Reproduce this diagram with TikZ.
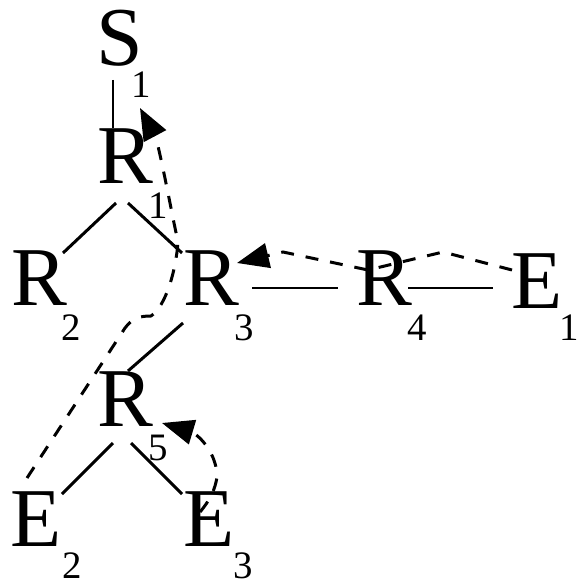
\documentclass[tikz,border=0pt]{standalone}
\usepackage{fontspec}
\setmainfont{Liberation Serif}
\usetikzlibrary{arrows.meta}
\newcommand{\px}{0.0352778cm}
\tikzset{x=\px,y=-\px,
 big/.style={inner sep=0pt,font=\fontsize{84}{84}\selectfont,anchor=center},
 sub/.style={inner sep=0pt,font=\fontsize{39}{39}\selectfont,anchor=center},
 bond/.style={line width=3pt,black},
 trace/.style={line width=3pt,black,dash pattern=on 13pt off 12pt},
 head/.style={-{Triangle[length=32pt,width=25pt]}}}
\begin{document}
\begin{tikzpicture}
\useasboundingbox (0,0) rectangle (577,587);
\node[big] (S) at (120,38) {S};
\node[sub] (s1) at (141,85) {1};
\node[big] (R1) at (125,156) {R};
\node[sub] (r1) at (158,206) {1};
\node[big] (R2) at (39,278) {R};
\node[sub] (r2) at (71,328) {2};
\node[big] (R3) at (211,278) {R};
\node[sub] (r3) at (244,328) {3};
\node[big] (R4) at (384,278) {R};
\node[sub] (r4) at (417,328) {4};
\node[big] (E1) at (537,281) {E};
\node[sub] (e1) at (569,328) {1};
\node[big] (R5) at (125,399) {R};
\node[sub] (r5) at (158,448) {5};
\node[big] (E2) at (36,519) {E};
\node[sub] (e2) at (72,566) {2};
\node[big] (E3) at (209,519) {E};
\node[sub] (e3) at (243,566) {3};
\coordinate (a1) at (113,80); \coordinate (a2) at (113,128);
\coordinate (b1) at (116,203); \coordinate (b2) at (63,253);
\coordinate (c1) at (128,203); \coordinate (c2) at (182,253);
\coordinate (d1) at (252,288); \coordinate (d2) at (338,288);
\coordinate (f1) at (408,288); \coordinate (f2) at (493,288);
\coordinate (g1) at (183,323); \coordinate (g2) at (128,371);
\coordinate (h1) at (113,443); \coordinate (h2) at (62,494);
\coordinate (k1) at (131,443); \coordinate (k2) at (182,494);
\draw[bond] (a1)--(a2);
\draw[bond] (b1)--(b2);
\draw[bond] (c1)--(c2);
\draw[bond] (d1)--(d2);
\draw[bond] (f1)--(f2);
\draw[bond] (g1)--(g2);
\draw[bond] (h1)--(h2);
\draw[bond] (k1)--(k2);
\coordinate (t1) at (27,478); \coordinate (t2) at (125,328); \coordinate (t3) at (151,316); \coordinate (t4) at (178,242); \coordinate (t5) at (140,108);
\draw[trace,head] (t1) -- (t2) .. controls (133,317) and (142,316) .. (t3) .. controls (166,306) and (176,270) .. (t4) .. controls (170,205) and (164,170) .. (156,138) -- (t5);
\coordinate (u1) at (512,270); \coordinate (u2) at (443,252); \coordinate (u3) at (368,270); \coordinate (u4) at (283,252); \coordinate (u5) at (237,263);
\draw[trace,head] (u1) -- (u2) -- (u3) -- (u4) -- (u5);
\coordinate (v1) at (200,512); \coordinate (v2) at (217,477); \coordinate (v3) at (162,423);
\draw[trace,head] (v1) .. controls (210,500) and (215,490) .. (v2) .. controls (217,458) and (205,440) .. (192,432) -- (v3);
\end{tikzpicture}
\end{document}
